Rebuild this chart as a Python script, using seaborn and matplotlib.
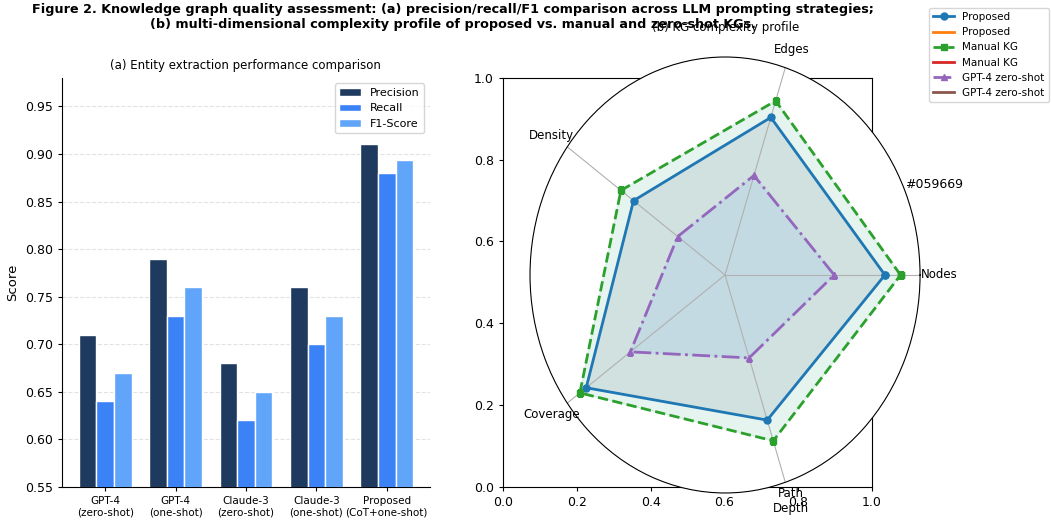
import numpy as np
import pandas as pd
import matplotlib
matplotlib.use('Agg')
import matplotlib.pyplot as plt
import seaborn as sns

# (a) bar data
strategies = ['GPT-4\n(zero-shot)', 'GPT-4\n(one-shot)', 'Claude-3\n(zero-shot)',
              'Claude-3\n(one-shot)', 'Proposed\n(CoT+one-shot)']
precision = [0.71, 0.79, 0.68, 0.76, 0.91]
recall = [0.64, 0.73, 0.62, 0.70, 0.88]
f1_score = [0.67, 0.76, 0.65, 0.73, 0.894]

# (b) radar data
dimensions = ['Nodes', 'Edges', 'Density', 'Coverage', 'Path\nDepth']
proposed = [0.82, 0.76, 0.58, 0.88, 0.70]
manual_kg = [0.90, 0.84, 0.66, 0.92, 0.80]
gpt4_zero = [0.56, 0.48, 0.30, 0.60, 0.40]

df = pd.DataFrame({
    'Strategy': strategies * 3,
    'Metric': ['Precision'] * 5 + ['Recall'] * 5 + ['F1-Score'] * 5,
    'Score': precision + recall + f1_score,
})

plt.rcParams['font.family'] = ['DejaVu Sans']

fig = plt.figure(figsize=(10.51, 5.22), dpi=100)

# ---- (a) grouped bars
ax1 = fig.add_axes([0.059, 0.067, 0.350, 0.784])
sns.barplot(data=df, x='Strategy', y='Score', hue='Metric',
            palette=['#1e3a5f', '#3b82f6', '#60a5fa'], saturation=1, width=0.75,
            edgecolor='white', linewidth=1, ax=ax1, zorder=3)
ax1.set_xlim(-0.6125, 4.6125)
ax1.set_ylim(0.55, 0.98)
ax1.set_yticks(np.arange(0.55, 0.96, 0.05))
ax1.set_xlabel('')
ax1.set_ylabel('Score', fontsize=9.5)
ax1.set_title('(a) Entity extraction performance comparison', fontsize=8.5, pad=6)
ax1.tick_params(axis='x', labelsize=7.5, length=3)
ax1.tick_params(axis='y', labelsize=9, length=3)
ax1.grid(axis='y', linestyle='--', color='#d0d0d0', alpha=0.6, zorder=0)
ax1.legend(loc='upper right', fontsize=8, title=None)
sns.despine(ax=ax1)

# ---- (b) leftover cartesian axes under the radar
ax_b = fig.add_axes([0.4786, 0.067, 0.351, 0.784])
ax_b.tick_params(labelsize=9, length=3)

# ---- (b) radar
angles = np.linspace(0, 2 * np.pi, len(dimensions), endpoint=False).tolist()
angles += angles[:1]

def closed(v):
    return list(v) + [v[0]]

ax2 = fig.add_axes([0.5043, 0.0556, 0.3711, 0.8352], projection='polar')
ax2.set_aspect('auto')
ax2.plot(angles, closed(proposed), 'o-', color='#1f77b4', linewidth=2, markersize=5, label='Proposed')
ax2.plot([], [], color='#ff7f0e', linewidth=2, label='Proposed')
ax2.fill(angles, closed(proposed), color='#1e3a5f', alpha=0.1)
ax2.plot(angles, closed(manual_kg), 's--', color='#2ca02c', linewidth=2, markersize=5, label='Manual KG')
ax2.plot([], [], color='#d62728', linewidth=2, label='Manual KG')
ax2.fill(angles, closed(manual_kg), color='#059669', alpha=0.1)
ax2.plot(angles, closed(gpt4_zero), '^-.', color='#9467bd', linewidth=2, markersize=5, label='GPT-4 zero-shot')
ax2.plot([], [], color='#8c564b', linewidth=2, label='GPT-4 zero-shot')
ax2.fill(angles, closed(gpt4_zero), color='#60a5fa', alpha=0.1)
ax2.set_ylim(0, 1)
ax2.set_yticks([])
ax2.set_xticks(angles[:-1])
ax2.set_xticklabels(dimensions, fontsize=8.5)
ax2.xaxis.grid(True, color='#b0b0b0', linewidth=0.8)
ax2.spines['polar'].set_linewidth(0.8)

fig.text(0.69, 1 - 28 / 522, '(b) KG complexity profile', ha='center', va='center', fontsize=8.5)
fig.text(0.861, 0.646, '#059669', ha='left', va='center', fontsize=9)

fig.legend(*ax2.get_legend_handles_labels(), loc='upper right',
           bbox_to_anchor=(0.998, 0.985), fontsize=7.5, borderaxespad=0)

fig.suptitle('Figure 2. Knowledge graph quality assessment: (a) precision/recall/F1 comparison across LLM prompting strategies;\n'
             '(b) multi-dimensional complexity profile of proposed vs. manual and zero-shot KGs.',
             x=0.431, y=0.995, va='top', fontsize=9.2, fontweight='bold')

fig.savefig('out.png', dpi=100)
